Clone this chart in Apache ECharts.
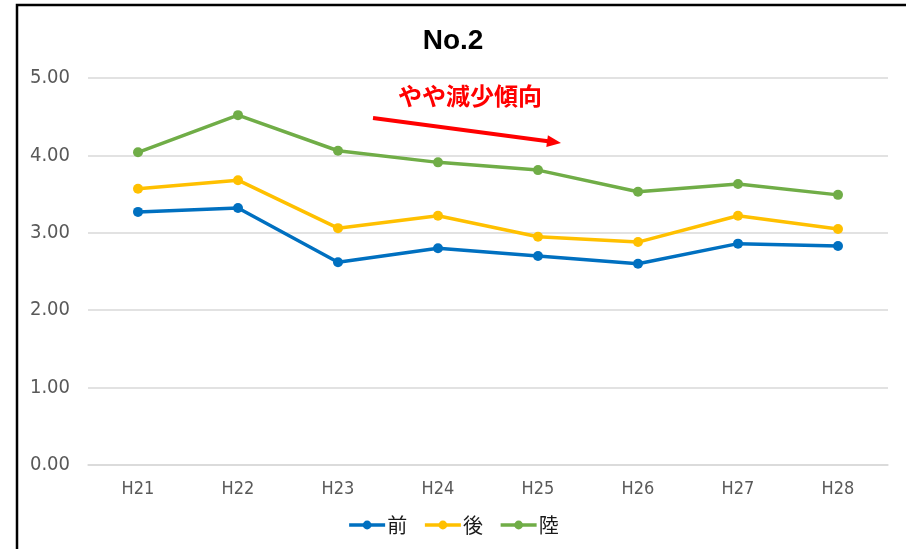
<!DOCTYPE html>
<html>
<head>
<meta charset="utf-8">
<script src="https://cdn.jsdelivr.net/npm/echarts@6/dist/echarts.min.js"></script>
<style>
  html, body { margin: 0; padding: 0; background: #fff; }
  #chart { width: 906px; height: 549px; }
</style>
</head>
<body>
<div id="chart"></div>
<script>
// 年度
var years = ['H21', 'H22', 'H23', 'H24', 'H25', 'H26', 'H27', 'H28'];
// 系列の値
var mae = [3.27, 3.32, 2.62, 2.80, 2.70, 2.60, 2.86, 2.83];
var ushiro = [3.57, 3.68, 3.06, 3.22, 2.95, 2.88, 3.22, 3.05];
var riku = [4.04, 4.52, 4.06, 3.91, 3.81, 3.53, 3.63, 3.49];
var seriesNames = ['前', '後', '陸'];
var yTicks = [0, 1, 2, 3, 4, 5];

var colors = ['#0070C0', '#FFC000', '#70AD47'];
var narrowFont = '"DejaVu Sans Condensed", "Liberation Sans", sans-serif';

function lineSeries(name, data, color) {
    return {
        name: name,
        type: 'line',
        data: data,
        symbol: 'circle',
        symbolSize: 10,
        itemStyle: { color: color },
        lineStyle: { color: color, width: 3.5 },
        emphasis: { disabled: true },
        z: 3
    };
}

var myChart = echarts.init(document.getElementById('chart'), null, { renderer: 'canvas' });

var option = {
    backgroundColor: '#fff',
    animation: false,
    title: {
        text: 'No.2',
        left: 'center',
        top: 22,
        textStyle: {
            fontFamily: 'Liberation Sans',
            fontWeight: 'bold',
            fontSize: 28,
            color: '#000'
        }
    },
    legend: {
        bottom: 9,
        left: 'center',
        itemWidth: 36,
        itemHeight: 11,
        itemGap: 16,
        data: seriesNames,
        lineStyle: { width: 3.5 },
        textStyle: {
            fontFamily: 'Noto Sans CJK JP',
            fontSize: 20,
            color: '#1a1a1a',
            padding: [0, 0, 0, -3]
        }
    },
    grid: {
        left: 88,
        right: 18,
        top: 78,
        bottom: 84
    },
    xAxis: {
        type: 'category',
        data: years,
        boundaryGap: true,
        axisLine: { show: true, lineStyle: { color: '#D9D9D9', width: 1.5 } },
        axisTick: { show: false },
        axisLabel: {
            margin: 15,
            fontFamily: narrowFont,
            fontSize: 18,
            color: '#595959'
        }
    },
    yAxis: {
        type: 'value',
        min: yTicks[0],
        max: yTicks[yTicks.length - 1],
        interval: 1,
        axisLine: { show: false },
        axisTick: { show: false },
        splitLine: { lineStyle: { color: '#D9D9D9', width: 1.5 } },
        axisLabel: {
            margin: 18,
            fontFamily: narrowFont,
            fontSize: 20,
            color: '#595959',
            formatter: function (v) { return v.toFixed(2); }
        }
    },
    graphic: [
        // 外枠
        {
            type: 'polyline',
            shape: { points: [[17, 549], [17, 5], [906, 5]] },
            style: { stroke: '#000', lineWidth: 2.5, fill: null },
            silent: true
        },
        // 注釈
        {
            type: 'text',
            left: 398,
            top: 84,
            style: {
                text: 'やや減少傾向',
                fill: '#FF0000',
                font: 'bold 24px "Noto Sans CJK JP"'
            },
            silent: true
        },
        {
            type: 'line',
            shape: { x1: 373, y1: 118, x2: 548, y2: 141.3 },
            style: { stroke: '#FF0000', lineWidth: 4 },
            silent: true
        },
        {
            type: 'polygon',
            shape: { points: [[561, 143], [546.3, 147.1], [547.9, 135.3]] },
            style: { fill: '#FF0000' },
            silent: true
        }
    ],
    series: [
        lineSeries(seriesNames[0], mae, colors[0]),
        lineSeries(seriesNames[1], ushiro, colors[1]),
        lineSeries(seriesNames[2], riku, colors[2])
    ]
};

myChart.setOption(option);
</script>
</body>
</html>
